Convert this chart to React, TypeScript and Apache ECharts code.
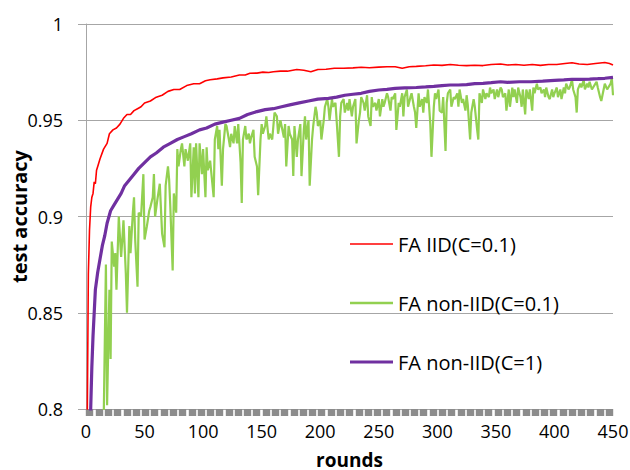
import React, { useEffect, useRef } from "react";
import * as echarts from "echarts";

const seriesNames = ["FA IID(C=0.1)", "FA non-IID(C=0.1)", "FA non-IID(C=1)"];
const xTicks = [0, 50, 100, 150, 200, 250, 300, 350, 400, 450];
const yTicks = [0.8, 0.85, 0.9, 0.95, 1];

// [round, accuracy]
const iidC01: [number, number][] = [
  [1, 0.79], [2, 0.87], [3, 0.893], [4, 0.905], [5, 0.91], [6, 0.912], [7, 0.918], [8, 0.917],
  [9, 0.924], [10, 0.926], [12, 0.93], [15, 0.935], [18, 0.938], [20, 0.943], [23, 0.945],
  [26, 0.946], [29, 0.948], [32, 0.951], [35, 0.953], [38, 0.953], [41, 0.955], [44, 0.956],
  [47, 0.957], [50, 0.959], [55, 0.96], [60, 0.962], [65, 0.963], [70, 0.965], [75, 0.966],
  [80, 0.966], [86, 0.968], [92, 0.969], [97, 0.969], [102, 0.9705], [106, 0.971], [112, 0.9715],
  [117, 0.972], [124, 0.9725], [131, 0.9735], [136, 0.9735], [140, 0.9744], [146, 0.9745],
  [151, 0.975], [156, 0.9748], [160, 0.9752], [166, 0.9755], [172, 0.9755], [180, 0.9764],
  [186, 0.976], [192, 0.9752], [198, 0.9764], [205, 0.9765], [212, 0.977], [220, 0.977],
  [228, 0.9772], [235, 0.9775], [242, 0.9773], [250, 0.9776], [257, 0.9778], [264, 0.9778],
  [270, 0.977], [276, 0.9778], [282, 0.978], [290, 0.9783], [297, 0.9787], [304, 0.9785],
  [311, 0.979], [318, 0.9786], [325, 0.9784], [332, 0.9786], [339, 0.9784], [346, 0.979],
  [354, 0.9792], [360, 0.9787], [367, 0.979], [374, 0.9786], [381, 0.979], [388, 0.9785],
  [395, 0.979], [402, 0.979], [409, 0.9795], [415, 0.9799], [421, 0.9792], [428, 0.979],
  [435, 0.9795], [443, 0.98], [447, 0.9795], [450, 0.9787],
];

const nonIidC01: [number, number][] = [
  [15, 0.79], [17, 0.875], [18, 0.802], [20, 0.862], [21, 0.826], [22, 0.887], [24, 0.874],
  [25, 0.881], [26, 0.862], [28, 0.9], [30, 0.879], [31, 0.888], [32, 0.898], [34, 0.8705],
  [35, 0.85], [37, 0.895], [38, 0.881], [40, 0.902], [41, 0.91], [42, 0.888], [44, 0.8635],
  [45, 0.902], [47, 0.9], [49, 0.922], [50, 0.888], [52, 0.895], [54, 0.903], [55, 0.905],
  [57, 0.91], [58, 0.922], [59, 0.9], [61, 0.909], [63, 0.917], [65, 0.891], [67, 0.884],
  [68, 0.916], [70, 0.926], [71, 0.919], [72, 0.905], [74, 0.872], [75, 0.912], [77, 0.902],
  [78, 0.935], [79, 0.926], [81, 0.935], [82, 0.938], [84, 0.926], [85, 0.935], [87, 0.929],
  [89, 0.938], [90, 0.91], [92, 0.936], [93, 0.912], [94, 0.938], [96, 0.91], [97, 0.938],
  [99, 0.922], [100, 0.935], [102, 0.91], [103, 0.936], [104, 0.924], [106, 0.929], [109, 0.91],
  [110, 0.94], [112, 0.947], [113, 0.935], [114, 0.945], [116, 0.916], [117, 0.935], [119, 0.948],
  [120, 0.947], [122, 0.94], [123, 0.936], [124, 0.943], [126, 0.938], [127, 0.947], [129, 0.938],
  [130, 0.948], [132, 0.928], [133, 0.907], [134, 0.94], [136, 0.947], [137, 0.94], [139, 0.943],
  [140, 0.938], [141, 0.941], [143, 0.945], [144, 0.931], [146, 0.926], [147, 0.911], [149, 0.94],
  [150, 0.948], [151, 0.943], [153, 0.947], [154, 0.952], [156, 0.94], [157, 0.943], [159, 0.94],
  [160, 0.947], [161, 0.954], [163, 0.952], [164, 0.943], [166, 0.95], [167, 0.947], [169, 0.941],
  [170, 0.948], [171, 0.926], [173, 0.947], [174, 0.943], [176, 0.94], [177, 0.921], [178, 0.947],
  [180, 0.931], [181, 0.94], [183, 0.948], [184, 0.921], [186, 0.945], [187, 0.952], [188, 0.94],
  [190, 0.95], [191, 0.916], [193, 0.94], [194, 0.947], [196, 0.957], [197, 0.954], [198, 0.947],
  [200, 0.95], [201, 0.94], [203, 0.95], [204, 0.957], [206, 0.961], [207, 0.957], [208, 0.95],
  [210, 0.961], [211, 0.957], [213, 0.959], [214, 0.95], [216, 0.931], [217, 0.952], [218, 0.959],
  [220, 0.961], [221, 0.954], [223, 0.959], [224, 0.955], [225, 0.961], [227, 0.952], [228, 0.957],
  [230, 0.961], [231, 0.938], [233, 0.95], [234, 0.954], [235, 0.962], [237, 0.959], [238, 0.955],
  [240, 0.963], [241, 0.952], [243, 0.947], [244, 0.962], [245, 0.957], [247, 0.959], [248, 0.955],
  [250, 0.961], [251, 0.952], [253, 0.961], [254, 0.957], [255, 0.959], [257, 0.964], [258, 0.962],
  [260, 0.955], [261, 0.962], [262, 0.961], [264, 0.964], [265, 0.945], [267, 0.959], [268, 0.957],
  [270, 0.964], [271, 0.952], [272, 0.962], [274, 0.966], [275, 0.957], [277, 0.962], [278, 0.964],
  [280, 0.957], [281, 0.954], [282, 0.946], [284, 0.964], [285, 0.957], [287, 0.961], [288, 0.954],
  [289, 0.962], [291, 0.959], [292, 0.966], [294, 0.948], [295, 0.931], [297, 0.957], [298, 0.964],
  [299, 0.961], [301, 0.966], [302, 0.955], [304, 0.954], [305, 0.962], [307, 0.934], [308, 0.959],
  [309, 0.964], [311, 0.966], [312, 0.957], [314, 0.962], [315, 0.961], [317, 0.964], [318, 0.957],
  [319, 0.966], [321, 0.959], [322, 0.961], [324, 0.955], [325, 0.963], [326, 0.958], [328, 0.94],
  [329, 0.954], [331, 0.961], [332, 0.957], [334, 0.945], [335, 0.94], [336, 0.964], [338, 0.959],
  [339, 0.966], [341, 0.961], [342, 0.964], [344, 0.962], [345, 0.967], [346, 0.964], [348, 0.966],
  [349, 0.961], [351, 0.966], [352, 0.962], [354, 0.967], [355, 0.966], [356, 0.962], [358, 0.964],
  [359, 0.955], [361, 0.966], [362, 0.957], [364, 0.967], [365, 0.962], [366, 0.966], [368, 0.959],
  [369, 0.967], [371, 0.962], [372, 0.957], [373, 0.966], [375, 0.953], [376, 0.966], [378, 0.961],
  [379, 0.966], [381, 0.955], [382, 0.967], [383, 0.964], [385, 0.969], [386, 0.966], [388, 0.967],
  [389, 0.964], [391, 0.966], [392, 0.962], [393, 0.967], [395, 0.962], [396, 0.961], [398, 0.966],
  [399, 0.962], [400, 0.964], [402, 0.967], [403, 0.962], [405, 0.966], [406, 0.961], [408, 0.967],
  [409, 0.964], [410, 0.969], [412, 0.966], [413, 0.967], [415, 0.971], [416, 0.966], [418, 0.962],
  [419, 0.954], [420, 0.966], [422, 0.969], [423, 0.967], [425, 0.971], [426, 0.966], [428, 0.969],
  [429, 0.967], [430, 0.97], [432, 0.966], [433, 0.967], [435, 0.969], [436, 0.97], [437, 0.967],
  [439, 0.962], [440, 0.96], [442, 0.966], [443, 0.969], [445, 0.966], [446, 0.967], [448, 0.969],
  [449, 0.972], [450, 0.963],
];

const nonIidC1: [number, number][] = [
  [3, 0.79], [4, 0.8], [5, 0.822], [6, 0.838], [7, 0.85], [8, 0.862], [10, 0.871], [12, 0.878],
  [14, 0.885], [16, 0.89], [18, 0.8965], [21, 0.903], [24, 0.906], [27, 0.909], [30, 0.912],
  [33, 0.916], [37, 0.919], [41, 0.922], [45, 0.925], [50, 0.928], [55, 0.931], [60, 0.933],
  [66, 0.936], [72, 0.938], [78, 0.94], [84, 0.9415], [90, 0.943], [97, 0.945], [103, 0.946],
  [110, 0.948], [117, 0.949], [124, 0.95], [131, 0.951], [138, 0.953], [146, 0.9545], [153, 0.9555],
  [160, 0.956], [167, 0.957], [174, 0.958], [182, 0.959], [190, 0.96], [198, 0.961], [207, 0.9614],
  [214, 0.962], [221, 0.963], [228, 0.9635], [235, 0.964], [242, 0.965], [250, 0.9657], [257, 0.966],
  [264, 0.9666], [272, 0.9668], [282, 0.967], [290, 0.9673], [297, 0.9676], [304, 0.968],
  [311, 0.9683], [318, 0.9683], [325, 0.9685], [332, 0.969], [339, 0.9692], [346, 0.9695],
  [354, 0.97], [360, 0.9697], [370, 0.97], [380, 0.97], [390, 0.9703], [400, 0.9707], [408, 0.971],
  [415, 0.9713], [422, 0.9712], [430, 0.9714], [437, 0.9716], [443, 0.9718], [450, 0.9723],
];

const FONT = "'Open Sans', Lato, sans-serif";
const GRID_COLOR = "#a6a6a6";

// decorative square tick marks along the x axis (57 squares spanning the axis)
const SQUARE_COUNT = 57;
const SQUARE_W = 7.4;
const PLOT_W = 527;

export default function App() {
  const ref = useRef<HTMLDivElement>(null);

  useEffect(() => {
    if (!ref.current) return;
    const chart = echarts.init(ref.current, undefined, { renderer: "svg" });
    const xMax = xTicks[xTicks.length - 1];
    const unitsPerPx = xMax / PLOT_W;
    const pitchPx = (PLOT_W - SQUARE_W) / (SQUARE_COUNT - 1);
    const squareTicks: number[] = [];
    for (let k = 0; k < SQUARE_COUNT; k++) {
      squareTicks.push((SQUARE_W / 2 + k * pitchPx) * unitsPerPx);
    }

    chart.setOption({
      animation: false,
      backgroundColor: "#ffffff",
      grid: {
        left: 86,
        right: 17,
        top: 24,
        bottom: 61,
        containLabel: false,
        outerBoundsMode: "none",
      },
      legend: {
        orient: "vertical",
        left: 345,
        top: 229,
        itemGap: 39,
        itemWidth: 43,
        itemHeight: 14,
        symbolKeepAspect: true,
        data: [
          { name: seriesNames[0], icon: "path://M0 0H43V1.6H0Z" },
          { name: seriesNames[1], icon: "path://M0 0H43V2.4H0Z" },
          { name: seriesNames[2], icon: "path://M0 0H43V3.2H0Z" },
        ],
        textStyle: { fontFamily: FONT, fontSize: 20, lineHeight: 20, color: "#000" },
      },
      xAxis: [
        {
          type: "value",
          min: xTicks[0],
          max: xMax,
          interval: 50,
          name: "rounds",
          nameLocation: "middle",
          nameGap: 41,
          nameMoveOverlap: false,
          nameTextStyle: { fontFamily: FONT, fontSize: 19, fontWeight: "bold", color: "#000" },
          axisLine: { show: false },
          axisTick: { show: false },
          splitLine: { show: false },
          axisLabel: { fontFamily: FONT, fontSize: 18, color: "#000", margin: 13 },
        },
        {
          type: "value",
          min: xTicks[0],
          max: xMax,
          position: "bottom",
          axisLine: { show: false },
          axisTick: {
            show: true,
            customValues: squareTicks,
            length: 7,
            lineStyle: { color: "#8c8c8c", width: SQUARE_W },
          },
          axisLabel: { show: false },
          splitLine: { show: false },
        },
      ],
      yAxis: {
        type: "value",
        min: yTicks[0],
        max: yTicks[yTicks.length - 1],
        interval: 0.05,
        name: "test accuracy",
        nameLocation: "middle",
        nameGap: 57,
        nameMoveOverlap: false,
        nameTextStyle: { fontFamily: FONT, fontSize: 20, fontWeight: "bold", color: "#000" },
        axisLine: { show: true, lineStyle: { color: GRID_COLOR, width: 1 } },
        axisTick: { show: true, length: 8, lineStyle: { color: GRID_COLOR, width: 1 } },
        splitLine: { show: true, lineStyle: { color: GRID_COLOR, width: 1 } },
        axisLabel: { fontFamily: FONT, fontSize: 18, color: "#000", margin: 23 },
      },
      series: [
        {
          name: seriesNames[1],
          type: "line",
          data: nonIidC01,
          symbol: "none",
          lineStyle: { color: "#92d050", width: 2.2 },
          itemStyle: { color: "#92d050" },
          z: 2,
        },
        {
          name: seriesNames[2],
          type: "line",
          data: nonIidC1,
          symbol: "none",
          lineStyle: { color: "#7030a0", width: 3.2 },
          itemStyle: { color: "#7030a0" },
          z: 3,
        },
        {
          name: seriesNames[0],
          type: "line",
          data: iidC01,
          symbol: "none",
          lineStyle: { color: "#ff0000", width: 1.6 },
          itemStyle: { color: "#ff0000" },
          z: 4,
        },
      ],
    });
    return () => chart.dispose();
  }, []);

  return (
    <div
      ref={ref}
      style={{ position: "fixed", left: 0, top: 0, width: 630, height: 470 }}
    />
  );
}
